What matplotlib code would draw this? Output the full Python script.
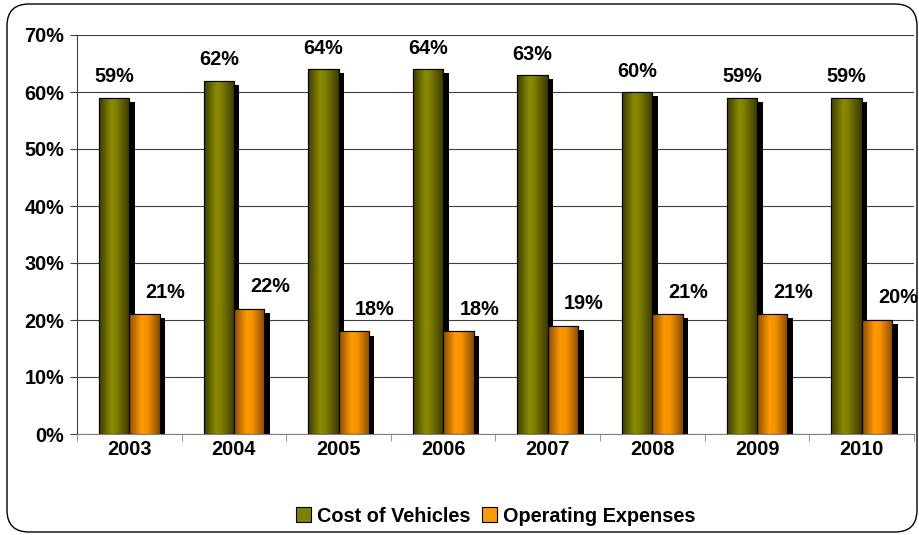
import matplotlib
matplotlib.use("Agg")
import matplotlib.pyplot as plt
import matplotlib.patches as mpatches
import matplotlib.transforms as mtransforms
from matplotlib.colors import LinearSegmentedColormap
import numpy as np

years = ["2003", "2004", "2005", "2006", "2007", "2008", "2009", "2010"]
cost_of_vehicles = [59, 62, 64, 64, 63, 60, 59, 59]
operating_expenses = [21, 22, 18, 18, 19, 21, 21, 20]
series_names = ["Cost of Vehicles", "Operating Expenses"]
y_ticks = [0, 10, 20, 30, 40, 50, 60, 70]

plt.rcParams['font.family'] = ['Liberation Sans', 'DejaVu Sans']
plt.rcParams['font.weight'] = 'bold'
FS = 14.3

W, H, DPI = 920, 535, 100
fig = plt.figure(figsize=(W / DPI, H / DPI), dpi=DPI)
ax = fig.add_axes([77 / W, 1 - 434 / H, (914 - 77) / W, (434 - 35) / H])

x = np.arange(len(years))
bw = 0.29
green = "#808000"
orange = "#FF9900"

shadow_tr = ax.transData + mtransforms.ScaledTranslation(4 / 72, -3 / 72, fig.dpi_scale_trans)
ax.bar(x - bw / 2, cost_of_vehicles, bw, color="black", transform=shadow_tr, zorder=2)
ax.bar(x + bw / 2, operating_expenses, bw, color="black", transform=shadow_tr, zorder=2)

b1 = ax.bar(x - bw / 2, cost_of_vehicles, bw, color=green, edgecolor="black", linewidth=0.8, zorder=3, label=series_names[0])
b2 = ax.bar(x + bw / 2, operating_expenses, bw, color=orange, edgecolor="black", linewidth=0.8, zorder=3, label=series_names[1])

cm_g = LinearSegmentedColormap.from_list("g", [(0, "#3c3c00"), (0.4, "#8c8c00"), (0.55, "#808000"), (1, "#3a3a00")])
cm_o = LinearSegmentedColormap.from_list("o", [(0, "#8a4c00"), (0.4, "#ff9a00"), (0.6, "#f59000"), (1, "#8a4c00")])
grad = np.linspace(0, 1, 64).reshape(1, -1)
for bars, cm in ((b1, cm_g), (b2, cm_o)):
    for p in bars:
        x0, y0 = p.get_x(), p.get_y()
        w, h = p.get_width(), p.get_height()
        im = ax.imshow(grad, cmap=cm, extent=(x0, x0 + w, y0, y0 + h), aspect="auto", zorder=3.5, interpolation="bicubic")
        im.set_clip_path(p)
        edge = mpatches.Rectangle((x0, y0), w, h, fill=False, edgecolor="black", linewidth=0.8, zorder=4)
        ax.add_patch(edge)

for xi, v in zip(x, cost_of_vehicles):
    ax.annotate(f"{v}%", (xi - bw / 2, v), xytext=(0, 15), textcoords="offset points",
                ha="center", va="center", fontsize=FS, fontweight="bold")
for xi, v in zip(x, operating_expenses):
    ax.annotate(f"{v}%", (xi + bw / 2, v), xytext=(15, 16), textcoords="offset points",
                ha="center", va="center", fontsize=FS, fontweight="bold")

ax.set_xlim(-0.5, len(years) - 0.5)
ax.set_ylim(0, 70)
ax.set_yticks(y_ticks)
ax.set_yticklabels([f"{t}%" for t in y_ticks], fontsize=FS, fontweight="bold")
ax.set_xticks(x)
ax.set_xticklabels(years, fontsize=FS, fontweight="bold")
ax.tick_params(axis="x", length=0, pad=4)
ax.set_xticks(np.arange(len(years) + 1) - 0.5, minor=True)
ax.tick_params(axis="x", which="minor", length=5, color="#808080")
ax.tick_params(axis="y", length=5, color="#404040", pad=4)
ax.yaxis.grid(True, color="#404040", linewidth=0.8, zorder=0)
ax.set_axisbelow(True)
for s in ("top", "right"):
    ax.spines[s].set_visible(False)
ax.spines["left"].set_color("#404040")
ax.spines["bottom"].set_color("#808080")

fig.legend(handles=[b1, b2], labels=series_names, loc="center", bbox_to_anchor=(496 / W, 19 / H),
           ncol=2, frameon=False, handlelength=0.75, handleheight=0.75,
           handletextpad=0.3, columnspacing=0.6, prop={"weight": "bold", "size": FS})

border = mpatches.FancyBboxPatch((7, 3), 910, 528, boxstyle="round,pad=0,rounding_size=22",
                                 transform=mtransforms.IdentityTransform(), fill=False,
                                 edgecolor="black", linewidth=1.0)
fig.patches.append(border)

fig.savefig("out.png", dpi=DPI)
